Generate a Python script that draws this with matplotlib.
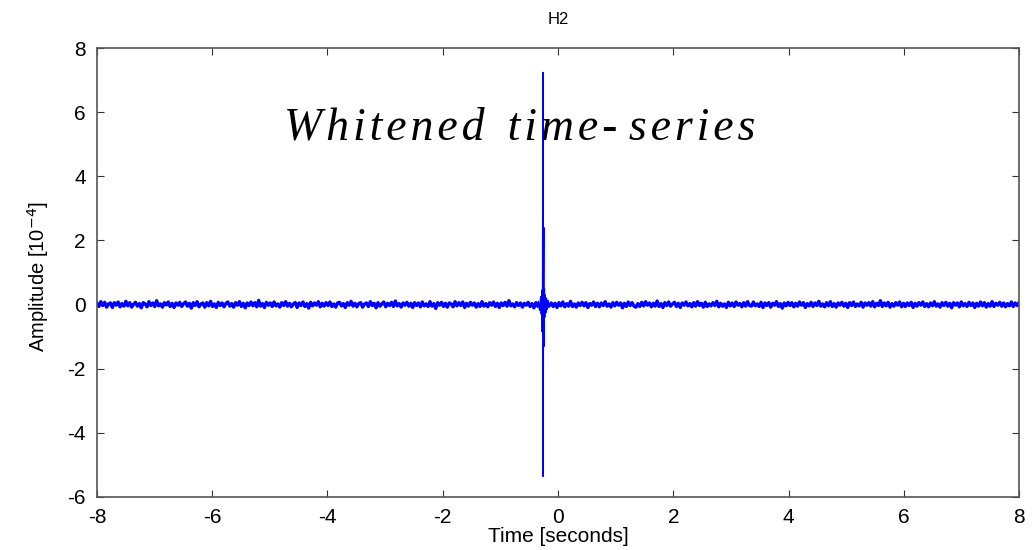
"""Whitened H2 time-series around the event, MATLAB-style look."""

import numpy as np
import matplotlib

matplotlib.use("Agg")
import matplotlib.pyplot as plt

noise = [
    0.04, -0.06, 0.09, -0.03, 0.07, -0.08, 0.02, 0.05, -0.09, 0.06, -0.02, 0.08, -0.07, 0.03, -0.05, 0.10, -0.04, 0.06, -0.08, 0.01,
    0.07, -0.05, 0.03, -0.10, 0.06, 0.02, -0.07, 0.09, -0.03, 0.05, -0.06, 0.12, -0.04, 0.02, -0.08, 0.06, -0.01, 0.08, -0.06, 0.04,
    -0.09, 0.05, -0.02, 0.07, -0.06, 0.03, 0.08, -0.05, 0.04, -0.11, 0.06, -0.03, 0.09, -0.07, 0.02, 0.05, -0.08, 0.06, -0.04, 0.10,
    -0.06, 0.02, -0.09, 0.07, -0.03, 0.05, -0.07, 0.04, 0.08, -0.05, 0.03, -0.08, 0.06, -0.02, 0.09, -0.06, 0.04, -0.10, 0.05, -0.03,
    0.08, -0.04, 0.06, -0.07, 0.13, -0.05, 0.03, -0.09, 0.07, -0.02, 0.05, -0.06, 0.08, -0.04, 0.02, -0.08, 0.06, -0.03, 0.09, -0.05,
    0.04, -0.07, 0.02, 0.06, -0.09, 0.05, -0.03, 0.08, -0.06, 0.03, -0.11, 0.07, -0.04, 0.05, -0.02, 0.09, -0.07, 0.04, -0.05, 0.06,
    -0.03, 0.08, -0.06, 0.02, -0.08, 0.05, 0.07, -0.04, 0.03, -0.09, 0.06, -0.02, 0.10, -0.05, 0.04, -0.07, 0.03, 0.06, -0.08, 0.02,
    0.05, -0.06, 0.09, -0.03, 0.04, -0.10, 0.06, -0.05, 0.02, 0.08, -0.07, 0.04, -0.03, 0.07, -0.06, 0.11, -0.04, 0.03, -0.08, 0.05,
    -0.02, 0.07, -0.05, 0.04, -0.09, 0.06, -0.03, 0.05, -0.07, 0.08, -0.04, 0.02, -0.06, 0.09, -0.05, 0.03, -0.12, 0.06, -0.02, 0.07,
    -0.06, 0.04, -0.08, 0.05, 0.02, -0.07, 0.09, -0.04, 0.06, -0.03, 0.08, -0.09, 0.04, -0.05, 0.07, -0.02, 0.05, -0.08, 0.03, -0.06,
    0.09, -0.05, 0.03, -0.07, 0.06, -0.02, 0.08, -0.06, 0.04, -0.09, 0.05, -0.03, 0.07, -0.05, 0.12, -0.04, 0.02, -0.07, 0.06, -0.03,
    0.05, -0.08, 0.04, -0.02, 0.07, -0.06, 0.03, -0.10, 0.06, -0.04, 0.08, -0.05, 0.02, -0.07, 0.09, -0.03, 0.05, -0.06, 0.04, -0.09,
    0.06, -0.04, 0.08, -0.07, 0.03, -0.05, 0.10, -0.06, 0.02, -0.08, 0.05, -0.03, 0.07, -0.04, 0.06, -0.09, 0.03, -0.02, 0.08, -0.06,
    0.04, -0.07, 0.05, -0.03, 0.09, -0.05, 0.02, -0.08, 0.06, -0.04, 0.07, -0.02, 0.05, -0.10, 0.04, -0.06, 0.08, -0.03, 0.06, -0.05,
    -0.08, 0.03, -0.06, 0.07, -0.04, 0.09, -0.02, 0.05, -0.07, 0.04, -0.05, 0.11, -0.06, 0.03, -0.09, 0.06, -0.03, 0.08, -0.05, 0.02,
    0.07, -0.06, 0.04, -0.09, 0.05, -0.02, 0.08, -0.04, 0.03, -0.07, 0.06, -0.05, 0.09, -0.03, 0.04, -0.08, 0.07, -0.06, 0.02, -0.04,
    0.06, -0.03, 0.10, -0.07, 0.04, -0.05, 0.02, -0.09, 0.07, -0.04, 0.05, -0.06, 0.08, -0.02, 0.03, -0.07, 0.06, -0.05, 0.09, -0.03,
    -0.05, 0.08, -0.04, 0.02, -0.06, 0.07, -0.09, 0.05, -0.03, 0.06, -0.08, 0.04, -0.02, 0.09, -0.06, 0.03, -0.11, 0.05, -0.04, 0.07,
    -0.03, 0.06, -0.07, 0.04, -0.05, 0.08, -0.02, 0.06, -0.09, 0.03, -0.04, 0.07, -0.06, 0.05, -0.03, 0.10, -0.05, 0.02, -0.07, 0.06,
    -0.04, 0.09, -0.06, 0.03, -0.08, 0.05, -0.02, 0.07, -0.05, 0.04, -0.09, 0.06, -0.03, 0.08, -0.06, 0.02, -0.04, 0.07, -0.08, 0.05,
    -0.02, 0.06, -0.05, 0.09, -0.07, 0.04, -0.03, 0.12, -0.06, 0.05, -0.04, 0.07, -0.08, 0.03, -0.05, 0.06, -0.02, 0.08, -0.07, 0.04,
    -0.06, 0.05, -0.03, 0.07, -0.09, 0.04, -0.05, 0.06, -0.02, 0.08, -0.06, 0.03, -0.07, 0.05, -0.04, 0.09, -0.05, 0.02, -0.08, 0.06,
    -0.03, 0.07, -0.05, 0.04, -0.10, 0.06, -0.02, 0.05, -0.07, 0.08, -0.04, 0.03, -0.06, 0.07, -0.03, 0.05, -0.09, 0.04, -0.05, 0.08,
    -0.04, 0.06, -0.08, 0.03, -0.05, 0.09, -0.06, 0.04, -0.02, 0.07, -0.05, 0.05, -0.07, 0.03, -0.04, 0.08, -0.06, 0.05, -0.03, 0.06,
]

# the event burst near t = -0.26 s
burst_t = [-0.34, -0.32, -0.30, -0.29, -0.28, -0.274, -0.268, -0.262, -0.258, -0.252, -0.246, -0.242,
           -0.236, -0.23, -0.222, -0.21, -0.20, -0.185, -0.17, -0.16]
burst_y = [0.10, -0.18, 0.25, -0.30, 0.45, -0.85, 0.40, 7.24, -5.36, 0.55, 2.40, -1.30,
           0.50, -0.40, 0.30, -0.25, 0.20, -0.15, 0.12, -0.08]

xticks = [-8, -6, -4, -2, 0, 2, 4, 6, 8]
yticks = [-6, -4, -2, 0, 2, 4, 6, 8]

t_noise = np.linspace(-8, 8, len(noise))
y_noise = np.asarray(noise, dtype=float)
keep = (t_noise < burst_t[0]) | (t_noise > burst_t[-1])
y_band = np.where(keep, y_noise, np.nan)

# join the burst onto the neighbouring noise samples
i0 = np.where(t_noise < burst_t[0])[0][-1]
i1 = np.where(t_noise > burst_t[-1])[0][0]
t_ev = np.concatenate([[t_noise[i0]], burst_t, [t_noise[i1]]])
y_ev = np.concatenate([[y_noise[i0]], burst_y, [y_noise[i1]]])

plt.rcParams["font.family"] = ["Liberation Sans", "DejaVu Sans"]
plt.rcParams["axes.unicode_minus"] = False

fig = plt.figure(figsize=(10.34, 5.5), dpi=100)
ax = fig.add_axes([0.0938, 0.0964, 0.8917, 0.8163])
ax.plot(t_noise, y_band, color="#0000ff", linewidth=2.4)
ax.plot(t_ev, y_ev, color="#0000ff", linewidth=1.0)

ax.set_xlim(-8, 8)
ax.set_ylim(-6, 8)
ax.set_xticks(xticks)
ax.set_yticks(yticks)
ax.tick_params(direction="in", top=True, right=True, labelsize=15, length=5, color="#333333", pad=8)
for s in ax.spines.values():
    s.set_color("#555555")
    s.set_linewidth(1.2)

ax.set_title("H2", fontsize=12, pad=17)
ax.set_xlabel("Time [seconds]", fontsize=15, labelpad=0)
ax.set_ylabel("Amplitude [10$^{-4}$]", fontsize=14.5,
              family=["Liberation Sans Narrow", "Liberation Sans", "DejaVu Sans"])
ax.yaxis.set_label_coords(-0.05, 0.49)

hs = "\u200a"
label = hs.join("Whitened") + "  " + hs.join("time-") + " " + hs.join("series")
ax.text(-0.66, 5.5, label, fontsize=33, family=["Liberation Serif", "DejaVu Serif"],
        style="italic", ha="center", va="center")

fig.savefig("out.png", dpi=100)
